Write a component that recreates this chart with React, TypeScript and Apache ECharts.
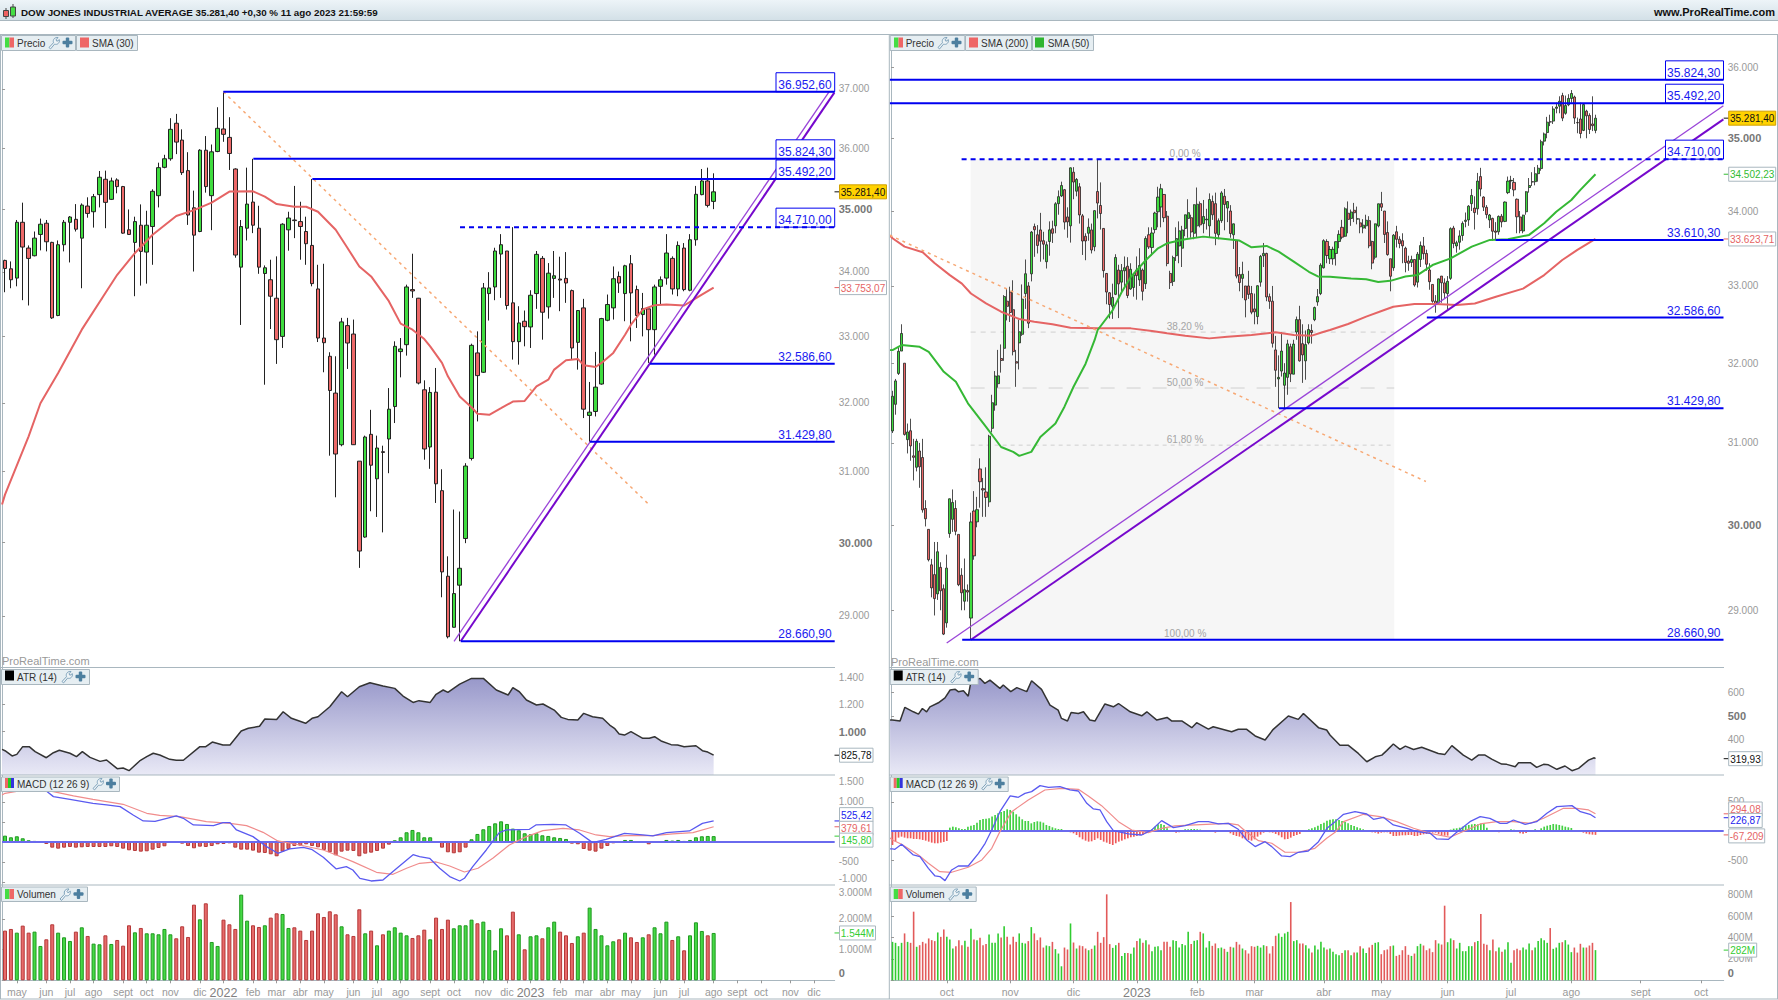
import React, { useEffect, useRef } from "react";
import * as echarts from "echarts";

type C = [number, number, number, number];
type P = [number, number];

// ---------- weekly chart (left) : [open, close, low, high] ----------
const weeklyCandles: C[] = [
[34180,34053,33681,34191],[34048,33876,33743,34164],[33902,34788,33773,34825],[34788,34392,33557,35105],[34376,34212,33475,34418],[34254,34534,34244,34640],[34593,34757,34339,34847],[34773,34476,34323,34825],[34466,33284,33268,34476],[33320,34429,33310,34497],
[34429,34788,34323,34825],[34788,34873,34148,34889],[34836,34677,34640,35082],[34534,35066,33743,35093],[35050,34931,34862,35192],[34958,35203,34703,35247],[35236,35520,35028,35623],[35487,35110,34693,35629],[35159,35459,35148,35514],[35476,35367,35257,35503],
[35367,34614,34604,35378],[34667,34593,34587,34995],[34466,34799,33619,34878],[34741,34323,33784,35077],[34312,34741,33815,34974],[34720,35290,34111,35323],[35219,35678,35028,35760],[35683,35825,35667,35891],[35825,36316,35793,36503],[36418,36102,35902,36576],
[36136,35596,35558,36316],[35629,34905,34746,35934],[35022,34582,34005,35301],[34640,35967,34629,35984],[35967,35367,35268,36203],[35219,35940,34661,36062],[35945,36333,35934,36689],[36322,36232,36107,36953],[36181,35913,35640,36520],[35656,34265,34223,35667],
[34074,34720,33175,34825],[34693,35082,34497,35678],[35115,34741,34614,35824],[34693,34074,33969,35055],[33974,34064,32271,34101],[33876,33619,33113,34191],[33588,32950,32583,34244],[33000,34757,32824,34773],[34667,34857,34334,34958],[34825,34815,34534,35378],
[34799,34720,34191,35120],[34640,34445,34111,34878],[34418,33815,33773,35492],[33732,32975,32914,34111],[32975,32904,32457,34127],[32698,32185,31229,32759],[32146,31253,30634,32698],[31388,33222,31365,33284],[33165,32899,32507,33284],[33036,31388,31384,33258],
[31150,29882,29650,31150],[30076,31500,30066,31520],[31539,31092,30437,31898],[30897,31340,30357,31520],[31287,31276,30141,31374],[31471,31908,30977,32221],[31947,32849,31704,32925],[32769,32809,32381,32975],[32874,33763,32708,33799],[33722,33701,33593,34286],
[33588,32296,32276,33593],[32195,31326,31171,32336],[31355,32156,31040,32235],[32160,30826,30554,32522],[30728,29595,29250,31034],[29536,28721,28699,29809],[28847,29300,28843,30461],[29414,29645,28661,30433],[30056,31080,29991,31121],[31189,32864,31160,32889],
[32749,32407,31728,33077],[32457,33748,32447,33825],[33660,33748,33243,33995],[33763,34329,33557,34381],[34281,34429,33593,34598],[34329,33475,33413,34329],[33516,32920,32648,34710],[32920,33206,32572,33464],[33232,33149,32849,33397],[33144,33634,32824,33712],
[33660,34276,33423,34329],[34212,33371,32950,34249],[33454,33979,33273,34138],[33897,33938,33593,34329],[33887,33871,33387,34239],[33897,33825,33516,34312],[33706,32824,32648,33722],[32909,33397,32497,33403],[33438,31908,31777,33578],[31816,31864,31430,32312],
[31874,32235,31801,32764],[32281,33273,32271,33284],[33247,33490,33232,33645],[33438,33892,33258,34085],[33928,33825,33670,34005],[33660,34095,33232,34111],[34127,33670,32925,34265],[33722,33320,33129,33784],[33335,33428,33000,33670],[33423,33103,32598,33423],
[33103,33763,32723,33799],[33773,33876,33490,33928],[33902,34297,33799,34598],[34212,33732,33645,34244],[33732,34418,33619,34482],[34376,33722,33696,34455],[33712,34508,33696,34598],[34508,35241,34413,35378],[35236,35459,35225,35656],[35459,35061,35028,35678],[35126,35281,35000,35585],
];
const weeklyVolume = [
1620,1674,1554,1783,1554,1587,1120,1337,1826,1554,1402,1283,1587,1728,1446,1196,1174,1467,1185,1315,
1130,1794,1565,1707,1533,1533,1500,1674,1500,1370,1761,1413,2467,1989,2511,1250,1120,1978,1826,1674,
2794,1946,1794,1739,1794,2044,2185,2163,1707,1728,1620,1315,1620,2185,2065,2250,2152,1761,1500,1446,
2315,1533,1620,1141,1500,1620,1728,1554,1467,1380,1467,1652,1337,2044,1674,1978,1696,1794,1794,1978,
1859,1913,1641,978,1696,1467,2239,1500,1011,1435,1467,1370,1728,1913,1587,1467,1217,1435,1554,2370,
1674,1467,1141,1272,1337,1554,1402,1250,1402,1500,1728,1533,1913,1315,1435,978,1467,1891,1609,1467,1544];
const weeklyHist = [
158,117,142,92,42,25,0,-50,-142,-167,-142,-125,-142,-133,-125,-125,-125,-125,-108,-125,
-167,-208,-225,-242,-233,-192,-150,-108,-25,8,-42,-100,-158,-117,-125,-100,-58,-50,-33,-142,
-192,-192,-217,-267,-275,-308,-358,-242,-175,-100,-92,-58,-100,-133,-200,-258,-333,-242,-217,-225,
-358,-292,-267,-225,-167,-67,42,117,242,300,242,117,117,0,-142,-258,-283,-258,-142,67,
200,317,400,466,516,450,333,292,217,192,217,167,150,117,100,75,-42,-58,-175,-217,
-242,-167,-100,-33,0,50,50,0,0,-58,-25,0,50,33,50,25,50,117,142,150,146];
const weeklySma30: P[] = [[-0.5,30531],[0,30672],[4,31510],[6,31995],[9,32447],[13,33103],[17,33670],[19,33954],[22,34297],[25,34587],[29,34889],[32,34984],[35,35105],[38,35285],[42,35290],[44,35203],[46,35082],[49,35039],[51,35039],[53,34958],[56,34667],[58,34376],[60,34085],[62,33928],[65,33542],[67,33196],[69,33103],[71,32960],[72,32849],[74,32598],[75,32396],[77,32095],[79,31937],[80,31840],[82,31825],[84,31922],[86,32020],[88,32030],[90,32245],[92,32346],[93,32497],[95,32638],[97,32658],[98,32562],[100,32537],[101,32598],[103,32749],[105,33026],[106,33180],[108,33413],[110,33480],[112,33490],[115,33475],[118,33645],[120,33753]];
const weeklyAtr: P[] = [[-0.5,869],[0,859],[1.2,820],[2,832],[3,889],[4.1,889],[5.1,852],[7,807],[8.2,844],[9.2,862],[11,840],[12.1,815],[13.1,852],[14.4,810],[16.1,780],[17.2,790],[19,726],[20,731],[21,711],[22.8,783],[24,815],[25.1,840],[26.2,827],[27.9,795],[29,788],[30.2,788],[33,889],[34,889],[35.1,923],[36.9,901],[38.1,901],[40,1005],[41.2,1025],[43.1,1040],[44,1094],[46,1091],[47.1,1148],[48.5,1099],[50.9,1062],[52,1099],[53,1111],[55,1185],[57,1296],[58,1259],[60,1333],[61.8,1363],[64,1338],[66,1321],[67.4,1264],[69.1,1217],[70.1,1230],[72,1217],[73,1277],[74.2,1309],[75,1291],[77,1353],[79,1395],[81,1395],[83.2,1309],[85.2,1272],[86,1326],[87.1,1296],[88.3,1235],[90,1198],[91.1,1205],[93,1160],[94.2,1106],[95.3,1091],[97,1086],[98,1136],[99.5,1111],[101.2,1099],[102.4,1049],[103.2,1025],[104,983],[104.9,975],[106,1000],[108,951],[109.1,951],[110,963],[111.1,931],[112.8,904],[113.9,901],[115,889],[117,896],[118.1,859],[119,849],[120,826]];
const weeklyMacd: P[] = [[0,1508],[4.8,1549],[7,1274],[8.2,1133],[11,1066],[14.9,966],[17.2,925],[19.5,883],[21.7,675],[23.4,525],[25.4,516],[27.4,591],[29,650],[30.2,591],[31.9,425],[35.3,408],[36.9,483],[38.1,483],[39.2,300],[42,133],[44.3,-117],[46.2,-283],[48.2,-175],[50.5,-133],[51.9,-183],[53.9,-383],[56.1,-675],[57.8,-616],[58.9,-700],[60.1,-908],[62,-975],[64,-950],[66,-700],[69.1,-317],[70.2,-367],[71.9,-408],[73.6,-658],[75.3,-866],[77,-975],[77.8,-908],[79.2,-616],[81.5,-200],[83.7,233],[84.9,300],[88.8,317],[89.9,425],[92.8,441],[95,425],[97.3,217],[99.5,-17],[101.8,67],[104.9,217],[108,175],[109.7,150],[112,233],[115.9,275],[118.1,466],[120,525]];
const weeklySignal: P[] = [[-0.5,1175],[0,1216],[1.7,1258],[4.8,1341],[8.2,1258],[11.6,1150],[14.9,1066],[20,941],[24,716],[26.2,666],[29.6,633],[34.1,508],[38.1,466],[40.9,408],[43.7,241],[46.2,25],[49.9,-75],[53.9,-200],[56.1,-325],[58.9,-491],[62.9,-758],[65.7,-808],[68,-658],[70.2,-533],[73,-500],[75.3,-600],[77.8,-750],[80.1,-658],[82.6,-408],[85.4,-75],[88.3,133],[91.1,283],[94.5,342],[97.3,300],[100.1,175],[102.4,133],[105.2,158],[109.7,158],[113.1,200],[116.5,233],[120,380]];

// month labels at their bar index
const weeklyMonths: [number, string][] = [[2,"may"],[7,"jun"],[11,"jul"],[15,"ago"],[20,"sept"],[24,"oct"],[28,"nov"],[33,"dic"],[37,"2022"],[42,"feb"],[46,"mar"],[50,"abr"],[54,"may"],[59,"jun"],[63,"jul"],[67,"ago"],[72,"sept"],[76,"oct"],[81,"nov"],[85,"dic"],[89,"2023"],[94,"feb"],[98,"mar"],[102,"abr"],[106,"may"],[111,"jun"],[115,"jul"],[120,"ago"],[124,"sept"],[128,"oct"],[133,"nov"],[137,"dic"]];
const dailyMonths: [number, string][] = [[18,"oct"],[39,"nov"],[60,"dic"],[81,"2023"],[101,"feb"],[120,"mar"],[143,"abr"],[162,"may"],[184,"jun"],[205,"jul"],[225,"ago"],[248,"sept"],[268,"oct"]];

// ---------- daily chart (right) ----------
const dailySep: C[] = [[31148,31581,31122,31650],[31480,31775,31350,31800],[31870,32152,31850,32200],[32155,32381,32155,32500],[32000,31105,31090,32000],[31040,31135,30870,31240],[31150,30962,30780,31300],[30840,30822,30540,31050],[30700,31020,30650,31050],[30900,30706,30450,31000],[30820,30184,30150,31050],[30200,30077,29985,30300],[29950,29590,29570,29950],[29530,29260,29150,29600],[29415,29135,28940,29800],[29190,29684,29120,29800],[29500,29226,29000,29560],[29250,28726,28715,29300]];
const dailyOct: C[] = [[28855,29491,28800,29650],[29900,30317,29850,30320],[30070,30273,29920,30430],[30200,29927,29880,30300],[29890,29297,29280,29890],[29408,29203,29000,29490],[29105,29239,29000,29604],[29230,29211,29100,29300],[28910,30039,28660,30150],[30170,29635,29590,30410],[30040,30186,29975,30340],[30680,30524,30210,30810],[30440,30424,30100,30570],[30400,30334,30100,30700],[30280,31083,30220,31100],[31180,31500,31130,31600],[31470,31837,31400,31900],[31740,31839,31690,32170],[32060,32034,31880,32240],[32190,32861,32030,32880],[32800,32733,32550,32960]];
const dailyNov: C[] = [[32920,32653,32530,32990],[32690,32148,32100,33075],[32020,32001,31700,32170],[32260,32403,31920,32560],[32370,32827,32350,33020],[32900,33161,32700,33350],[33000,32514,32450,33050],[33160,33716,33060,33730],[33790,33747,33385,33830],[33680,33537,33430,33810],[33745,33593,33320,33975],[33600,33554,33350,33720],[33320,33546,33230,33590],[33590,33746,33400,33860],[33760,33700,33570,33870],[33800,34098,33700,34120],[34100,34195,33950,34280],[34205,34347,34190,34400],[34290,33850,33750,34300],[33920,33853,33640,34050],[33800,34590,33575,34595]];
const dailyDec: C[] = [[34530,34395,34160,34600],[34270,34430,34200,34450],[34330,33947,33830,34380],[33935,33596,33410,33960],[33660,33597,33340,33700],[33700,33781,33600,33900],[33745,33476,33430,33830],[33520,34005,33460,34010],[34265,34108,33900,34710],[34075,33966,33750,34390],[33765,33202,33110,33770],[33165,32920,32760,33170],[32910,32757,32575,32920],[32735,32850,32570,33030],[32890,33376,32880,33420],[33210,33027,32580,33280],[33050,33203,32900,33290],[33200,33241,33000,33390],[33260,32875,32840,33380],[32960,33220,32950,33300],[32980,33147,32860,33160]];
const dailyJan: C[] = [[33210,33136,32820,33390],[33080,33270,33000,33500],[33210,32930,32810,33230],[33030,33630,32960,33660],[33680,33517,33490,33780],[33510,33704,33400,33780],[33750,33973,33700,33990],[33990,34189,33780,34330],[34055,34303,33780,34370],[34225,33910,33850,34230],[33930,33296,33260,34000],[33165,33044,32960,33200],[33060,33375,33000,33400],[33400,33629,33330,33780],[33530,33733,33300,33860],[33500,33744,33250,33800],[33765,33949,33660,33950],[33900,33978,33640,34160],[33910,33717,33640,33950],[33700,34086,33620,34090]];
const dailyFeb: C[] = [[33800,34092,33650,34320],[34100,33813,33780,34130],[33830,33926,33700,34150],[33880,33891,33750,34030],[33800,34156,33640,34240],[34130,33949,33880,34210],[34100,33699,33540,34250],[33680,33869,33620,33900],[33870,34246,33840,34270],[34200,34089,33740,34300],[34040,34128,33850,34135],[34000,33697,33640,34080],[33680,33827,33490,33830],[33600,33130,33100,33610],[33150,33045,32930,33250],[33100,33154,32840,33320],[33000,32817,32590,33000],[33000,32889,32830,33200],[32900,32657,32630,33000]];
const dailyMar: C[] = [[32700,32662,32500,32900],[32600,33003,32500,33010],[33050,33391,32990,33410],[33400,33431,33250,33570],[33430,32856,32800,33440],[32860,32798,32700,32900],[32800,32255,32200,33000],[32170,31910,31700,32350],[31800,31820,31430,32100],[31900,32155,31830,32400],[31720,31875,31430,32000],[31820,32247,31600,32300],[32210,31862,31760,32250],[31860,32245,31860,32300],[32400,32561,32300,32600],[32560,32030,32020,32740],[32250,32106,31750,32500],[32030,32238,31790,32420],[32260,32432,32240,32500],[32420,32394,32250,32500],[32560,32717,32540,32730],[32790,32860,32740,32960],[32900,33274,32880,33300]];
const dailyApr: C[] = [[33240,33601,33230,33620],[33590,33403,33300,33620],[33360,33483,33290,33530],[33360,33485,33280,33520],[33430,33587,33270,33590],[33590,33685,33500,33740],[33780,33647,33620,33880],[33660,34030,33650,34050],[33970,33887,33700,34130],[33900,33987,33800,34020],[34010,33977,33850,34110],[33890,33897,33820,34060],[33840,33787,33700,33900],[33770,33809,33700,33890],[33800,33875,33760,33950],[33870,33531,33500,33930],[33590,33302,33220,33600],[33380,33827,33350,33830],[33800,34098,33780,34100]];
const dailyMay: C[] = [[34100,34052,34000,34260],[34000,33684,33570,34000],[33710,33415,33400,33860],[33360,33128,32930,33360],[33240,33674,33200,33690],[33720,33619,33510,33800],[33620,33562,33500,33660],[33600,33531,33300,33700],[33500,33310,33180,33520],[33330,33300,33200,33400],[33310,33349,33250,33400],[33350,33012,32990,33350],[33050,33420,32980,33450],[33350,33535,33250,33590],[33530,33427,33350,33650],[33430,33287,33200,33480],[33210,33056,32950,33300],[33020,32800,32780,33020],[32800,32765,32650,32880],[32780,33093,32760,33100],[33130,33042,32780,33130],[33040,32908,32830,33100]];
const dailyJun: C[] = [[32900,33061,32690,33130],[33100,33762,33080,33780],[33770,33563,33500,33800],[33530,33573,33440,33600],[33580,33665,33480,33740],[33670,33833,33600,33860],[33860,33876,33780,33980],[33880,34066,33800,34080],[34100,34212,34000,34300],[34040,33979,33750,34200],[34030,34408,33950,34520],[34470,34299,34200,34590],[34190,34053,34000,34200],[34050,33952,33900,34080],[33880,33946,33770,33960],[33900,33727,33600,33910],[33730,33714,33610,33850],[33720,33927,33680,33940],[33930,33852,33780,33960],[33860,34122,33850,34130],[34250,34408,34230,34470]];
const dailyJul: C[] = [[34410,34418,34300,34480],[34390,34288,34200,34450],[34160,33922,33700,34170],[33920,33735,33700,34000],[33730,33944,33700,33950],[33990,34262,33950,34270],[34320,34347,34250,34450],[34400,34395,34340,34530],[34400,34509,34350,34600],[34510,34585,34400,34630],[34580,34952,34550,34980],[34960,35061,34900,35080],[35080,35225,35000,35300],[35230,35228,35170,35330],[35240,35411,35200,35450],[35420,35438,35350,35500],[35450,35520,35350,35590],[35600,35282,35240,35640],[35350,35459,35330,35600],[35470,35560,35450,35620]];
const dailyAug: C[] = [[35560,35630,35500,35679],[35580,35283,35200,35600],[35220,35216,35070,35290],[35270,35066,35000,35500],[35110,35473,35100,35490],[35380,35314,35000,35400],[35320,35123,35060,35350],[35200,35176,35100,35590],[35110,35281,35070,35330]];
const dailyCandles: C[] = [...dailySep,...dailyOct,...dailyNov,...dailyDec,...dailyJan,...dailyFeb,...dailyMar,...dailyApr,...dailyMay,...dailyJun,...dailyJul,...dailyAug];

const dailyVolume = [
359,350,319,350,438,359,350,641,313,328,359,344,391,375,366,447,406,475,406,381,
297,319,375,328,369,313,481,381,375,397,328,338,428,350,350,438,400,506,406,334,
406,359,438,350,344,366,497,438,375,400,306,325,319,359,291,250,131,306,288,531,
353,297,325,319,297,281,294,325,453,350,403,803,338,303,328,350,228,256,256,247,
306,366,391,350,375,334,272,313,319,281,359,359,313,375,366,306,338,328,453,338,
369,375,453,438,306,366,322,344,300,306,294,266,313,306,359,334,297,281,250,319,
313,322,306,328,319,250,319,416,438,406,438,453,731,366,375,344,344,328,297,259,
325,288,359,306,288,297,266,
244,234,256,281,281,234,259,259,319,297,256,306,331,350,356,244,281,288,319,325,
228,238,281,319,238,228,250,319,341,325,281,297,263,375,344,334,697,356,391,375,
297,350,272,272,319,319,356,366,619,341,331,281,381,272,306,266,288,356,163,281,
294,281,306,288,344,281,306,366,394,375,350,488,294,306,350,356,375,334,263,306,
259,341,306,306,325,350,282];
const dailyHist = [
-240,-183,-114,-97,-114,-126,-126,-137,-137,-143,-154,-166,-183,-200,-211,-211,-200,-188,-171,
57,74,63,46,34,34,74,91,103,143,188,206,211,217,246,274,303,325,343,371,360,331,286,246,200,171,171,131,154,166,160,143,103,86,63,46,34,34,
-6,-17,-23,-40,-69,-108,-143,-166,-183,-177,-154,-126,-154,-183,-200,-223,-240,-211,-183,-166,-143,-126,-108,-97,-86,-74,-69,-40,-11,
29,74,114,120,103,46,17,-17,-29,-23,6,29,29,34,34,29,23,11,0,0,-11,-29,0,0,0,-17,-40,-69,-86,-97,-126,-143,-154,-166,-143,-97,-63,-29,-17,-23,-29,-51,-74,-108,-143,-137,-114,-86,-69,-51,0,11,29,46,63,91,120,143,177,194,200,200,188,171,154,131,103,86,63,46,29,6,-11,-23,-29,-46,-29,-23,-23,-51,-86,-86,-80,-74,-74,-69,-69,-86,-86,-69,-57,-51,-40,-29,-29,-51,-74,-80,-80,
23,40,46,57,74,91,103,114,120,114,126,126,57,17,0,-17,-23,-17,-11,17,29,23,0,-40,-46,-34,0,0,29,17,46,74,91,103,120,114,103,91,74,63,51,17,-6,-17,-29,-46,-57,-63,-67];
const dailySma200: P[] = [[-0.8,33670],[0,33633],[4,33521],[10,33446],[14,33299],[19,33143],[23,33031],[26,32901],[31,32771],[36,32663],[42,32568],[47,32533],[53,32499],[59,32456],[68,32447],[74,32447],[79,32447],[86,32413],[91,32383],[97,32353],[105,32318],[111,32340],[119,32361],[127,32396],[133,32361],[139,32353],[143,32404],[145,32426],[151,32504],[157,32599],[163,32685],[166,32728],[173,32763],[180,32763],[187,32750],[193,32771],[200,32858],[209,32965],[216,33143],[222,33343],[227,33477],[233,33624]];
const dailySma50: P[] = [[-0.8,32170],[0,32167],[3,32232],[9,32210],[12,32145],[17,31890],[21,31764],[25,31492],[31,31199],[36,30949],[40,30889],[42,30840],[46,30889],[49,31073],[54,31241],[57,31450],[60,31701],[64,31994],[67,32298],[68,32426],[73,32685],[76,32922],[79,33120],[84,33343],[88,33499],[91,33566],[97,33620],[103,33655],[108,33633],[115,33602],[119,33512],[124,33530],[128,33454],[133,33321],[138,33187],[141,33125],[145,33120],[152,33098],[157,33089],[161,33053],[165,33067],[170,33125],[174,33143],[179,33276],[185,33365],[192,33521],[198,33611],[204,33620],[211,33678],[216,33834],[220,33989],[225,34150],[228,34288],[233,34502]];
const dailyAtr: P[] = [[-0.8,483],[0,483],[2.5,479],[4.1,537],[6.9,518],[8.6,508],[9.9,532],[11.3,518],[12.4,539],[15.2,556],[17.4,577],[19.1,610],[20.8,613],[21.8,603],[23.5,607],[25.1,584],[26,645],[29,659],[30.6,638],[32.3,652],[35.6,617],[36.7,631],[39.2,603],[41.2,620],[44.5,603],[46.1,649],[49.4,613],[52.2,546],[54.9,525],[56,490],[58,479],[59.2,515],[61.6,511],[63.3,518],[65.4,483],[67.1,479],[70.4,551],[73.2,539],[74.9,553],[78.8,518],[82.6,501],[84.3,518],[87.6,483],[91,494],[92.6,479],[96,479],[99.2,451],[100.8,472],[104.7,445],[106.3,455],[112.4,434],[114.6,444],[117.4,444],[120.2,416],[123.5,399],[126.2,444],[131.2,500],[134.5,486],[136.2,511],[141.2,451],[143.9,441],[145,420],[148.3,377],[151,377],[154.4,342],[157.2,307],[160,328],[162.2,335],[163.8,354],[166,382],[168.2,359],[170,373],[172.7,359],[175.4,368],[180.9,342],[183.1,338],[185.4,375],[189.2,335],[192,314],[194.2,335],[196.4,335],[198.6,318],[201.9,297],[203.6,296],[206.4,286],[207.5,303],[211.4,303],[213.5,283],[215.8,296],[217.4,294],[220.2,275],[222.9,289],[225.2,269],[227.4,279],[230.7,314],[232.6,324],[233,320]];
const dailyMacd: P[] = [[-0.8,-308],[0,-308],[0.8,-314],[3,-228],[6.9,-411],[9.1,-440],[11.9,-640],[14.1,-771],[15.7,-782],[17.4,-851],[19.6,-668],[21.8,-600],[25.1,-600],[28.5,-383],[30.7,-211],[32.9,17],[35.6,331],[39,600],[41.7,577],[43.9,645],[46.1,674],[48.9,777],[51.7,748],[55.5,760],[58.8,703],[61.6,685],[64.4,474],[66.6,377],[68.8,360],[71,160],[73.2,6],[78.2,-51],[82.6,-69],[85.9,17],[89.2,177],[93.1,57],[97,91],[101.4,160],[104.7,160],[108,120],[111.3,131],[114.6,29],[117.4,-154],[120.2,-268],[123.5,-183],[125.7,-268],[129,-428],[131.8,-440],[134.5,-365],[137.8,-343],[141.2,-183],[144,46],[146.7,160],[149.5,286],[153.3,331],[157.2,291],[159.4,200],[162.7,234],[166,103],[170.5,46],[173.9,-11],[178.2,-40],[180.4,-137],[184.3,-143],[187,-23],[191.4,160],[194.8,246],[198,217],[201.4,131],[203.6,131],[205.8,188],[209.7,114],[213.5,160],[216.9,303],[220.2,417],[225.2,434],[228,331],[231.2,286],[233,227]];
const dailySignal: P[] = [[-0.8,-120],[0,-154],[3,-228],[8.6,-411],[11.9,-554],[15.7,-697],[19.6,-708],[25.1,-622],[29.6,-497],[32.9,-297],[35.6,-11],[39.5,331],[45,531],[50.5,702],[56.1,731],[61.6,714],[64.9,600],[69.3,434],[74.9,160],[79.3,17],[84.8,-29],[89.2,46],[93.6,86],[100.3,103],[111.3,131],[114.6,103],[117.4,-23],[121.3,-166],[125.7,-211],[130.1,-365],[134.5,-365],[140,-297],[143.9,-126],[146.7,-23],[149.5,160],[156.1,286],[161.6,246],[167.1,160],[172.7,46],[178.2,-40],[184.8,-108],[190.3,17],[194.8,120],[200.3,160],[205.8,160],[211.3,131],[215.8,217],[222.4,388],[226.8,388],[230.7,360],[233,294]];

const fibPrices = [34710, 32399, 31685, 30972, 28660.9];
const fibLabels = ["0,00 %", "38,20 %", "50,00 %", "61,80 %", "100,00 %"];

const GREEN = "#3fdc3f", RED = "#ec6868", FRAME = "#a9b7bf", BLUE = "#0000f0";
const FONT = "'Liberation Sans', Arial, sans-serif";

echarts.graphic.registerShape("wrench", echarts.graphic.extendPath("M1 11 L5.5 6.2 C4.5 3 6.8 0.6 10 1 L8 3.4 L8.9 4.8 L11.4 3.2 C11.8 6.5 9.4 8.6 6.6 7.6 L2.6 12.4 Z", {}));

const dotted = (n: number) => String(Math.abs(n)).replace(/\B(?=(\d{3})+$)/g, ".");
const catData = (months: [number, string][], n: number) => {
  const a: string[] = new Array(n).fill("");
  months.forEach(([i, s]) => (a[i] = s));
  return a;
};

interface Col {
  left: number; width: number; slots: number;
  months: [number, string][];
  pMin: number; pMax: number; atr: [number, number]; macd: [number, number]; vol: number;
  priceTicks: number[]; boldPrice: number[];
  atrTicks: number[]; boldAtr: number[]; macdTicks: number[]; macdLabels: number[]; volTicks: number[];
}
const ROWS = [[35, 632], [668, 107], [775.3, 110], [885.3, 95]];

function App() {
  const ref = useRef<HTMLDivElement>(null);
  useEffect(() => {
    document.body.style.margin = "0";
    const chart = echarts.init(ref.current!, undefined, { renderer: "svg" });

    const grid: any[] = [], xAxis: any[] = [], yAxis: any[] = [], series: any[] = [];
    const addCol = (c: Col, colIdx: number) => {
      const cats = catData(c.months, c.slots);
      ROWS.forEach(([top, h], r) => {
        const g = colIdx * 4 + r;
        grid.push({ left: c.left, top, width: c.width, height: h, containLabel: false });
        const last = r === 3;
        const shown = (i: number, v: string) => v !== "";
        xAxis.push({
          type: "category", gridIndex: g, data: cats, boundaryGap: true, show: last,
          axisLine: { lineStyle: { color: FRAME } },
          axisTick: { show: last, interval: shown, alignWithLabel: true, length: 3, lineStyle: { color: "#999" } },
          axisLabel: {
            show: last, interval: shown, color: "#999", fontSize: 10.5, margin: 6, fontFamily: FONT, hideOverlap: false,
            formatter: (v: string) => (/^\d{4}$/.test(v) ? `{y|${v}}` : v),
            rich: { y: { fontSize: 12.5, color: "#808080", fontFamily: FONT } },
          },
        });
        xAxis.push({ type: "value", gridIndex: g, min: 0, max: c.slots, show: false });
      });
      const labelCfg = (vals: number[], fmt: (v: number) => string) => ({
        customValues: vals, formatter: fmt, color: "#999", fontSize: 10, fontFamily: FONT, margin: 4, align: "left" as const,
        hideOverlap: false, showMinLabel: true, showMaxLabel: true,
        rich: {
          b: { fontWeight: "bold", fontSize: 11, color: "#777", fontFamily: FONT },
          dn: { padding: [8, 0, 0, 0], fontSize: 10, color: "#999", fontFamily: FONT },
          up: { padding: [0, 0, 6, 0], fontSize: 10, color: "#999", fontFamily: FONT },
          upb: { padding: [0, 0, 14, 0], fontWeight: "bold", fontSize: 11, color: "#777", fontFamily: FONT },
        },
      });
      const yBase = (g: number, min: number, max: number, ticks: number[], fmt: (v: number) => string, labels?: number[]) => ({
        type: "value", gridIndex: g, position: "right", min, max, scale: true,
        splitLine: { show: false },
        axisLine: { show: true, lineStyle: { color: FRAME, width: 1 } },
        axisTick: { show: true, customValues: ticks, length: 3, lineStyle: { color: "#999" } },
        axisLabel: labelCfg(labels || ticks, fmt),
      });
      const base = colIdx * 4;
      yAxis.push(yBase(base, Math.log(c.pMin), Math.log(c.pMax), c.priceTicks.map(Math.log), (v) => {
        const n = Math.round(Math.exp(v));
        return c.boldPrice.includes(n) ? `{b|${dotted(n)}}` : dotted(n);
      }));
      yAxis.push(yBase(base + 1, c.atr[0], c.atr[1], c.atrTicks, (v) =>
        c.boldAtr.includes(v) ? `{b|${dotted(v)}}` : dotted(v)));
      yAxis.push(yBase(base + 2, c.macd[0], c.macd[1], c.macdTicks, (v) => {
        const s = (v < 0 ? "-" : "") + dotted(v);
        return v === -1000 ? `{up|${s}}` : s;
      }, c.macdLabels));
      yAxis.push(yBase(base + 3, 0, c.vol, c.volTicks, (v) => {
        if (v === 0) return "{upb|0}";
        const s = dotted(v) + "M";
        return v === 3000 ? `{dn|${s}}` : s;
      }));
    };

    const leftCol: Col = {
      left: 2.05, width: 832.65, slots: 141, months: weeklyMonths,
      pMin: 28322, pMax: 37935, atr: [679, 1472], macd: [-1083, 1666], vol: 3098,
      priceTicks: [29000, 30000, 31000, 32000, 33000, 34000, 35000, 36000, 37000], boldPrice: [30000, 35000],
      atrTicks: [1000, 1200, 1400], boldAtr: [1000], macdTicks: [-1000, -500, 500, 1000, 1500], macdLabels: [-1000, -500, 1000, 1500], volTicks: [0, 1000, 2000, 3000],
    };
    const rightCol: Col = {
      left: 891, width: 832.7, slots: 276, months: dailyMonths,
      pMin: 28352, pMax: 36470, atr: [251, 703], macd: [-931, 954], vol: 887.5,
      priceTicks: [29000, 30000, 31000, 32000, 33000, 34000, 35000, 36000], boldPrice: [30000, 35000],
      atrTicks: [400, 500, 600], boldAtr: [500], macdTicks: [-500, 500], macdLabels: [-500, 500], volTicks: [0, 200, 400, 600, 800],
    };
    addCol(leftCol, 0);
    addCol(rightCol, 1);

    const cat = (g: number) => g * 2;
    const val = (g: number) => g * 2 + 1;
    const candleSeries = (g: number, data: C[], w: number, bw: number) => ({
      type: "candlestick", xAxisIndex: cat(g), yAxisIndex: g, barWidth: w, z: 3, silent: true,
      data: data.map((d) => d.map(Math.log)),
      itemStyle: { color: GREEN, color0: RED, borderColor: "#222", borderColor0: "#222", borderColorDoji: "#222", borderWidth: bw },
    });
    const lineS = (g: number, pts: P[], color: string, width: number, extra: any = {}, log = false) => ({
      type: "line", xAxisIndex: val(g), yAxisIndex: g, showSymbol: false, symbol: "none", silent: true, z: 4,
      data: pts.map(([i, v]) => [i + 0.5, log ? Math.log(v) : v]),
      lineStyle: { color, width, ...(extra.lineStyle || {}) },
      ...(extra.area ? { areaStyle: { opacity: 1, origin: "start", color: new echarts.graphic.LinearGradient(0, 0, 0, 1, [{ offset: 0, color: "#9898ca" }, { offset: 1, color: "#e9e9f6" }]) } } : {}),
    });
    const segment = (g: number, a: P, b: P, color: string, width: number, dash?: number[]) => ({
      type: "line", xAxisIndex: val(g), yAxisIndex: g, showSymbol: false, symbol: "none", silent: true, z: 5,
      data: [[a[0], Math.log(a[1])], [b[0], Math.log(b[1])]],
      lineStyle: { color, width, type: dash || "solid" },
    });
    const zeroLine = (g: number, n: number) => ({
      type: "line", xAxisIndex: val(g), yAxisIndex: g, showSymbol: false, symbol: "none", silent: true, z: 4,
      data: [[0, 0], [n, 0]], lineStyle: { color: "#6a6aee", width: 2 },
    });
    const dirColor = (c: C) => c[1] >= c[0];
    const volSeries = (g: number, vals: number[], candles: C[], w: number, borders: boolean) => ({
      type: "bar", xAxisIndex: cat(g), yAxisIndex: g, barWidth: w, silent: true, z: 3,
      data: vals.map((v, i) => {
        const up = dirColor(candles[i]);
        return { value: v, itemStyle: { color: up ? (borders ? "#45d845" : "#30cc30") : (borders ? "#e66a6a" : "#e25a5a"), borderColor: up ? "#1f9a1f" : "#b53838", borderWidth: borders ? 1 : 0 } };
      }),
    });
    const histSeries = (g: number, vals: number[], w: number, borders: boolean) => ({
      type: "bar", xAxisIndex: cat(g), yAxisIndex: g, barWidth: w, silent: true, z: 2,
      data: vals.map((v) => ({ value: v, itemStyle: { color: v >= 0 ? (borders ? "#45d845" : "#44d044") : (borders ? "#e06464" : "#ee5a5a"), borderColor: v >= 0 ? "#1f9a1f" : "#b53838", borderWidth: borders ? 1 : 0 } })),
    });

    interface Level { from: number; price: number; label: string; dashed?: boolean; box?: boolean }
    const levelSeries = (g: number, right: number, boxW: number, levels: Level[]) => ({
      type: "custom", xAxisIndex: val(g), yAxisIndex: g, silent: true, z: 6, clip: false,
      data: levels.map((l) => [l.from, Math.log(l.price)]),
      renderItem: (p: any, api: any) => {
        const l = levels[p.dataIndex];
        const [x, y] = api.coord([api.value(0), api.value(1)]);
        const children: any[] = [];
        if (l.box) children.push({ type: "rect", shape: { x: right - boxW, y: y - 19, width: boxW, height: 19 }, style: { fill: "#fff", stroke: "#0000f0", lineWidth: 1 } });
        children.push({ type: "line", shape: { x1: x, y1: y, x2: right, y2: y }, style: { stroke: BLUE, lineWidth: 2, lineDash: l.dashed ? [5, 4] : undefined } });
        children.push({ type: "text", style: { text: l.label, x: right - 3, y: y - 7, fill: "#1a1af0", fontSize: 12, fontFamily: FONT, align: "right", verticalAlign: "middle" } });
        return { type: "group", children };
      },
    });

    interface Flag { value: number; text: string; color: string; fill?: string; w: number; dy?: number; bold?: boolean }
    const flagSeries = (g: number, x: number, flags: Flag[], log = false) => ({
      type: "custom", xAxisIndex: val(g), yAxisIndex: g, silent: true, z: 8, clip: false,
      data: flags.map((f) => [0, log ? Math.log(f.value) : f.value]),
      renderItem: (p: any, api: any) => {
        const f = flags[p.dataIndex];
        const y = api.coord([0, api.value(1)])[1];
        const cy = y + (f.dy || 0);
        return {
          type: "group", children: [
            { type: "line", shape: { x1: x - 5, y1: y, x2: x, y2: y }, style: { stroke: f.color, lineWidth: 1 } },
            { type: "rect", shape: { x, y: cy - 7, width: f.w, height: 14 }, style: { fill: f.fill || "#fff", stroke: f.fill ? "#d0a000" : "#a9b7bf", lineWidth: 1 } },
            { type: "text", style: { text: f.text, x: x + f.w / 2, y: cy + 0.5, fill: f.color, fontSize: 10, fontWeight: f.bold ? "bold" : "normal", fontFamily: FONT, align: "center", verticalAlign: "middle" } },
          ],
        };
      },
    });

    const fibSeries = (g: number, v1: number, v2: number, labelV: number) => ({
      type: "custom", xAxisIndex: val(g), yAxisIndex: g, silent: true, z: 1, clip: false,
      data: [[v1, Math.log(fibPrices[0]), v2, Math.log(fibPrices[4])]],
      renderItem: (_: any, api: any) => {
        const a = api.coord([api.value(0), api.value(1)]);
        const b = api.coord([api.value(2), api.value(3)]);
        const cx = api.coord([labelV, api.value(1)])[0];
        const dash: number[][] = [[], [5, 5], [14, 12], [4, 4], []];
        const children: any[] = [{ type: "rect", shape: { x: a[0], y: a[1], width: b[0] - a[0], height: b[1] - a[1] }, style: { fill: "#f6f6f6" } }];
        fibPrices.forEach((pr, i) => {
          const y = api.coord([0, Math.log(pr)])[1];
          if (i > 0 && i < 4) children.push({ type: "line", shape: { x1: a[0], y1: y, x2: b[0], y2: y }, style: { stroke: "#cfcfcf", lineWidth: 1, lineDash: dash[i] } });
          children.push({ type: "text", style: { text: fibLabels[i], x: cx, y: y - 6, fill: "#a5a5a5", fontSize: 10, fontFamily: FONT, align: "center", verticalAlign: "middle" } });
        });
        return { type: "group", children };
      },
    });

    // ---- left column -----
    series.push(
      candleSeries(0, weeklyCandles, 4, 1),
      lineS(0, weeklySma30, "#e56464", 2, {}, true),
      segment(0, [37.47, 36952.6], [109.6, 30527], "#f7a874", 1.5, [3, 4]),
      segment(0, [76.54, 28660.9], [140.04, 36952], "#9a45d8", 1.3),
      segment(0, [77.67, 28660.9], [140.94, 36937], "#7608cc", 2),
      levelSeries(0, 834.7, 58.7, [
        { from: 37.47, price: 36952.6, label: "36.952,60", box: true },
        { from: 42.55, price: 35824.3, label: "35.824,30", box: true },
        { from: 52.54, price: 35492.2, label: "35.492,20", box: true },
        { from: 77.55, price: 34710, label: "34.710,00", box: true, dashed: true },
        { from: 109.73, price: 32586.6, label: "32.586,60" },
        { from: 99.57, price: 31429.8, label: "31.429,80" },
        { from: 77.67, price: 28660.9, label: "28.660,90" },
      ]),
      flagSeries(0, 839.5, [
        { value: 35281.4, text: "35.281,40", color: "#111", fill: "#ffd200", w: 47 },
        { value: 33753.07, text: "33.753,07", color: "#e56464", w: 47 },
      ], true),
      lineS(1, weeklyAtr, "#333", 1.5, { area: true }),
      flagSeries(1, 839.5, [{ value: 825.78, text: "825,78", color: "#111", w: 33.5 }]),
      histSeries(2, weeklyHist, 4, true),
      zeroLine(2, 141),
      lineS(2, weeklySignal, "#f08c8c", 1.2),
      lineS(2, weeklyMacd, "#5a5af0", 1.3),
      flagSeries(2, 839.5, [
        { value: 525.42, text: "525,42", color: "#2222ee", w: 33.5, dy: -6.3 },
        { value: 379.61, text: "379,61", color: "#e56464", w: 33.5, dy: 1.5 },
        { value: 145.8, text: "145,80", color: "#33cc33", w: 33.5, dy: 4 },
      ]),
      volSeries(3, weeklyVolume, weeklyCandles, 4, true),
      flagSeries(3, 839.5, [{ value: 1544, text: "1.544M", color: "#33cc33", w: 36 }]),
    );
    // ---- right column -----
    const R = 4;
    series.push(
      fibSeries(R, 26.4, 166.8, 97.5),
      candleSeries(R, dailyCandles, 2.6, 0.8),
      lineS(R, dailySma200, "#e56464", 2, {}, true),
      lineS(R, dailySma50, "#35b835", 2, {}, true),
      segment(R, [-0.43, 33674], [177.3, 30527], "#f7a874", 1.5, [3, 4]),
      segment(R, [18.46, 28624], [275.9, 35456], "#9a45d8", 1.3),
      segment(R, [26.5, 28660.9], [275.9, 35264], "#7608cc", 2),
      levelSeries(R, 1723.5, 58, [
        { from: -0.43, price: 35824.3, label: "35.824,30", box: true },
        { from: -0.43, price: 35492.2, label: "35.492,20", box: true },
        { from: 23.4, price: 34710, label: "34.710,00", box: true, dashed: true },
        { from: 200.4, price: 33610.3, label: "33.610,30" },
        { from: 177.6, price: 32586.6, label: "32.586,60" },
        { from: 128.6, price: 31429.8, label: "31.429,80" },
        { from: 23.6, price: 28660.9, label: "28.660,90" },
      ]),
      flagSeries(R, 1728.7, [
        { value: 35281.4, text: "35.281,40", color: "#111", fill: "#ffd200", w: 47 },
        { value: 34502.23, text: "34.502,23", color: "#33bb33", w: 47 },
        { value: 33623.71, text: "33.623,71", color: "#e56464", w: 47 },
      ], true),
      lineS(R + 1, dailyAtr, "#333", 1.5, { area: true }),
      flagSeries(R + 1, 1728.7, [{ value: 319.93, text: "319,93", color: "#111", w: 33.5 }]),
      histSeries(R + 2, dailyHist, 1.7, false),
      zeroLine(R + 2, 276),
      lineS(R + 2, dailySignal, "#f08c8c", 1.2),
      lineS(R + 2, dailyMacd, "#5a5af0", 1.3),
      flagSeries(R + 2, 1728.7, [
        { value: 294.08, text: "294,08", color: "#e56464", w: 33.5, dy: -4.8 },
        { value: 226.87, text: "226,87", color: "#2222ee", w: 33.5, dy: 2.7 },
        { value: -67.209, text: "-67,209", color: "#e56464", w: 36, dy: 1 },
      ]),
      volSeries(R + 3, dailyVolume, dailyCandles, 1.6, false),
      flagSeries(R + 3, 1728.7, [{ value: 282, text: "282M", color: "#33cc33", w: 28 }]),
    );

    // ---- furniture -----
    const Z = 50;
    const hline = (x1: number, x2: number, y: number) => ({ type: "line", z: Z, shape: { x1, y1: y, x2, y2: y }, style: { stroke: FRAME, lineWidth: 1 } });
    const vline = (x: number, y1: number, y2: number) => ({ type: "line", z: Z, shape: { x1: x, y1, x2: x, y2 }, style: { stroke: FRAME, lineWidth: 1 } });
    const txt = (text: string, x: number, y: number, extra: any = {}) => ({ type: "text", z: Z + 2, style: { text, x, y, fill: "#333", fontSize: 10, fontFamily: FONT, verticalAlign: "middle", ...extra } });
    const square = (x: number, y: number, w: number, h: number, fill: string) => ({ type: "rect", z: Z + 2, shape: { x, y, width: w, height: h }, style: { fill } });
    const wrench = (x: number, y: number) => ({ type: "wrench", z: Z + 2, x, y, style: { fill: "#eef4f7", stroke: "#7fa3bb", lineWidth: 1 } });
    const plus = (x: number, y: number) => ([
      { type: "rect", z: Z + 2, shape: { x: x - 5, y: y - 1.7, width: 10, height: 3.4, r: 1 }, style: { fill: "#4d7f9f" } },
      { type: "rect", z: Z + 2, shape: { x: x - 1.7, y: y - 5, width: 3.4, height: 10, r: 1 }, style: { fill: "#4d7f9f" } },
    ]);
    const box = (x1: number, x2: number, y1: number, y2: number) => ({
      type: "rect", z: Z + 1, shape: { x: x1 + 0.5, y: y1 + 0.5, width: x2 - x1, height: y2 - y1 },
      style: { fill: "#e6eef2", stroke: "#a9b7bf", lineWidth: 1 },
    });
    const panelLegends = (dx: number) => [
      box(dx + 1, dx + 89, 669, 684), square(dx + 5, 670.5, 9, 10, "#000"), txt("ATR (14)", dx + 17, 677), wrench(dx + 61, 670.5), ...plus(dx + 80.5, 676.5),
      box(dx + 1, dx + 119, 776.5, 791), square(dx + 5, 778, 3, 10, "#e66"), square(dx + 8, 778, 3, 10, "#2c2"), square(dx + 11, 778, 3, 10, "#33d"), txt("MACD (12 26 9)", dx + 17, 784.5), wrench(dx + 92, 777.5), ...plus(dx + 111, 783.5),
      box(dx + 1, dx + 87, 886.5, 901), square(dx + 5, 889, 4.5, 10, "#4d4"), square(dx + 9.5, 889, 4.5, 10, "#e66"), txt("Volumen", dx + 17, 894.5), wrench(dx + 59, 888), ...plus(dx + 78.5, 894),
    ];
    const priceIcon = (x: number) => [square(x, 37.5, 4.5, 10, "#4d4"), square(x + 4.5, 37.5, 4.5, 10, "#e66")];

    const graphic: any[] = [
      { type: "rect", z: Z, shape: { x: 0, y: 0, width: 1778, height: 20 }, style: { fill: new echarts.graphic.LinearGradient(0, 0, 0, 1, [{ offset: 0, color: "#edf4f8" }, { offset: 1, color: "#d3e0e7" }]) } },
      hline(0, 1778, 20.5), hline(0, 1778, 34.5), hline(0, 1778, 999),
      vline(0.5, 34, 999), vline(889.3, 34, 999), vline(1777.5, 34, 999),
      hline(1, 835, 667.5), hline(1, 835, 775), hline(1, 835, 885), hline(889, 1724, 667.5), hline(889, 1724, 775), hline(889, 1724, 885),
      // title candles
      { type: "line", z: Z + 2, shape: { x1: 6, y1: 8, x2: 6, y2: 19 }, style: { stroke: "#444", lineWidth: 1 } },
      { type: "rect", z: Z + 2, shape: { x: 3.5, y: 10.5, width: 5, height: 6 }, style: { fill: "#ee6060", stroke: "#444", lineWidth: 1 } },
      { type: "line", z: Z + 2, shape: { x1: 13, y1: 4, x2: 13, y2: 18 }, style: { stroke: "#444", lineWidth: 1 } },
      { type: "rect", z: Z + 2, shape: { x: 10.5, y: 7, width: 5, height: 9 }, style: { fill: "#44dd44", stroke: "#444", lineWidth: 1 } },
      txt("DOW JONES INDUSTRIAL AVERAGE 35.281,40 +0,30 % 11 ago 2023 21:59:59", 21, 12, { fontWeight: "bold", fontSize: 9.8, fill: "#111" }),
      txt("www.ProRealTime.com", 1775, 12, { fontWeight: "bold", fontSize: 11, fill: "#111", align: "right" }),
      // left legends
      box(1, 75, 35, 50), ...priceIcon(5), txt("Precio", 17, 43), wrench(48, 36.5), ...plus(67.5, 42.5),
      box(76, 137, 35, 50), square(80, 37.5, 9, 10, "#e66"), txt("SMA (30)", 92, 43),
      ...panelLegends(0),
      txt("ProRealTime.com", 2, 661, { fill: "#999", fontSize: 11 }),
      // right legends
      box(889.7, 964.3, 35, 50), ...priceIcon(894), txt("Precio", 905.7, 43), wrench(937, 36.5), ...plus(956.5, 42.5),
      box(965, 1031, 35, 50), square(969, 37.5, 9, 10, "#e66"), txt("SMA (200)", 981, 43),
      box(1032, 1093, 35, 50), square(1035, 37.5, 9, 10, "#2fb52f"), txt("SMA (50)", 1047.7, 43),
      ...panelLegends(888.7),
      txt("ProRealTime.com", 891, 662, { fill: "#999", fontSize: 11 }),
    ];

    chart.setOption({ animation: false, backgroundColor: "#fff", grid, xAxis, yAxis, series, graphic: { elements: graphic } });
    return () => chart.dispose();
  }, []);
  return <div ref={ref} style={{ position: "fixed", left: 0, top: 0, width: 1778, height: 1000 }} />;
}
export default App;
